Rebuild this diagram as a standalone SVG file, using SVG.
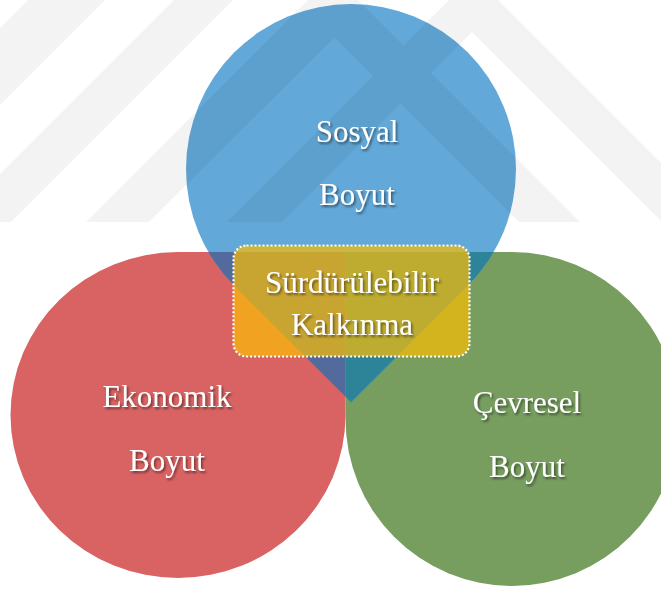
<svg xmlns="http://www.w3.org/2000/svg" width="661" height="590" viewBox="0 0 661 590">
  <defs>
    <style>
      .lbl { font-family: "Liberation Serif", "Times New Roman", serif; font-size: 31px; fill: #ffffff; text-anchor: middle; filter: url(#ts); }
      .wm { fill: #000000; }
    </style>
    <filter id="ts" x="-20%" y="-30%" width="140%" height="160%">
      <feDropShadow dx="1.5" dy="2" stdDeviation="1" flood-color="#000000" flood-opacity="0.5"/>
    </filter>
    <path id="redShape" d="M 178,252 L 345.5,252 L 345.5,415 A 167.5 163 0 1 1 178,252 Z"/>
    <path id="greenShape" d="M 345.5,419 L 345.5,252 L 512,252 A 166.5 167 0 1 1 345.5,419 Z"/>
    <path id="blueShape" d="M 467.7,285.7 L 351,402.3 L 234.3,285.7 A 165 165 0 1 1 467.7,285.7 Z"/>
    <clipPath id="clipRed"><use href="#redShape"/></clipPath>
    <clipPath id="clipGreen"><use href="#greenShape"/></clipPath>
    <clipPath id="clipWm"><rect x="0" y="0" width="661" height="222"/></clipPath>
  </defs>

  <rect x="0" y="0" width="661" height="590" fill="#ffffff"/>

  <g id="ekonomik">
    <use href="#redShape" fill="#d96363"/>
  </g>
  <g id="cevresel">
    <use href="#greenShape" fill="#779d5f"/>
  </g>
  <g id="sosyal">
    <use href="#blueShape" fill="#62a8d8"/>
    <use href="#blueShape" fill="#536a9c" clip-path="url(#clipRed)"/>
    <use href="#blueShape" fill="#2d8398" clip-path="url(#clipGreen)"/>
  </g>

  <g id="watermark" clip-path="url(#clipWm)" opacity="0.045">
    <polygon class="wm" points="38,-10 115,-10 -125,230 -202,230"/>
    <polygon class="wm" points="184,-10 243,-10 3,230 -56,230"/>
    <polygon class="wm" points="78,230 333,-25 588,230 527,230 334.5,37.5 141,230"/>
    <polygon class="wm" points="219,230 473.5,-24.5 728,230 670,230 472,32 274,230"/>
  </g>

  <g id="sosyal-text">
    <text class="lbl" x="357" y="142">Sosyal</text>
    <text class="lbl" x="357" y="205">Boyut</text>
  </g>
  <g id="ekonomik-text">
    <text class="lbl" x="167" y="407">Ekonomik</text>
    <text class="lbl" x="167" y="471">Boyut</text>
  </g>
  <g id="cevresel-text">
    <text class="lbl" x="527" y="413">Çevresel</text>
    <text class="lbl" x="527" y="477">Boyut</text>
  </g>

  <g id="merkez">
    <rect x="233.5" y="245.5" width="236" height="111" rx="13" ry="13" fill="#fbbe04" fill-opacity="0.7" stroke="#ffffff" stroke-width="2.2" stroke-dasharray="2 2"/>
    <text class="lbl" x="352" y="293">Sürdürülebilir</text>
    <text class="lbl" x="352" y="335">Kalkınma</text>
  </g>
</svg>
